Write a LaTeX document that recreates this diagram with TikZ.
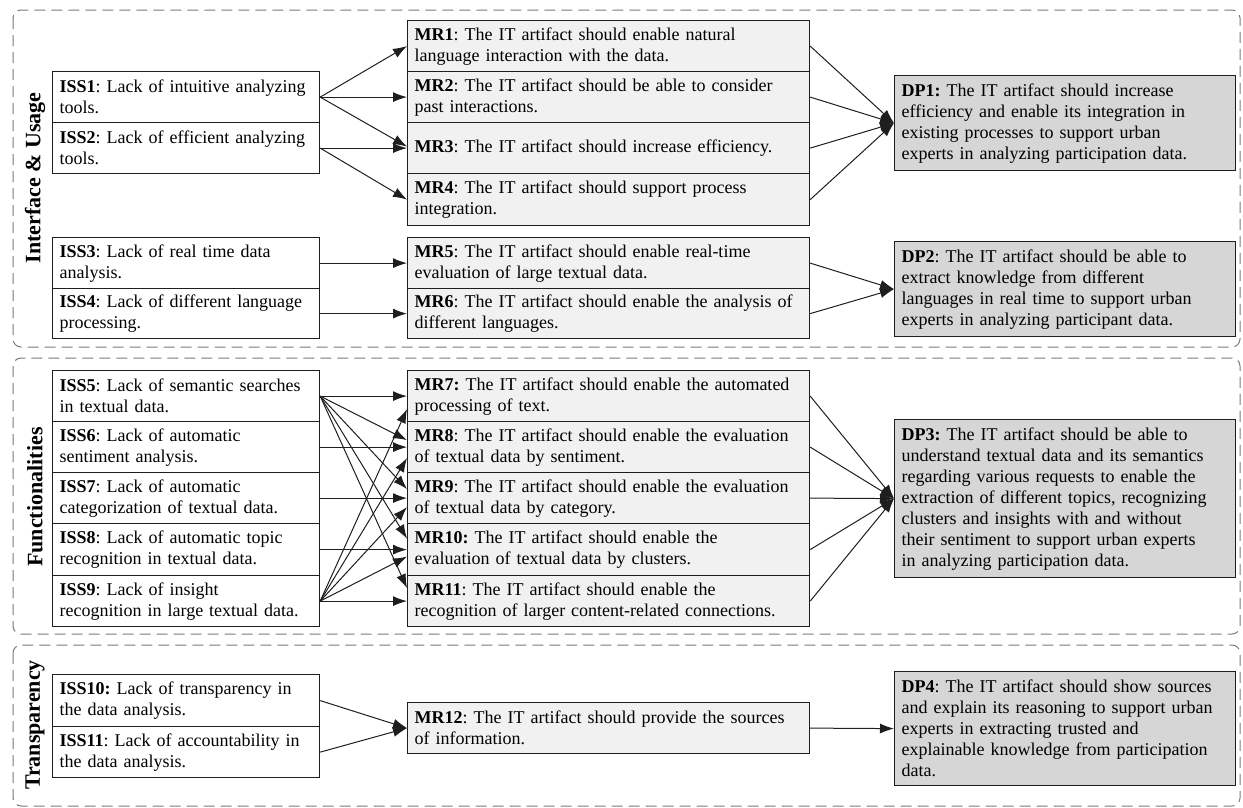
\documentclass[tikz,border=0pt]{standalone}
\usepackage{fontspec}
\setmainfont{Liberation Serif}
\usetikzlibrary{arrows.meta,calc}
\definecolor{mrgray}{HTML}{F1F1F1}
\definecolor{dpgray}{HTML}{D6D6D6}
\definecolor{secgray}{HTML}{7A7A7A}
\definecolor{edge}{HTML}{1E1E1E}
\frenchspacing
\begin{document}
\begin{tikzpicture}[x=1pt,y=-1pt,
  box/.style={draw=edge, line width=1.2pt, rectangle, anchor=north west, inner xsep=7pt, inner ysep=0pt, align=left, font=\fontsize{18}{21}\selectfont},
  iss/.style={box, fill=white, minimum width=267pt, text width=253pt},
  mr/.style={box, fill=mrgray, minimum width=402pt, text width=388pt},
  dp/.style={box, fill=dpgray, minimum width=341pt, text width=327pt},
  conn/.style={draw=edge, line width=1pt, -{Latex[length=14pt,width=10pt]}},
  sec/.style={draw=secgray, dash pattern=on 11pt off 6pt, rounded corners=8pt, line width=1pt},
  seclabel/.style={font=\fontsize{22}{26}\selectfont\bfseries, rotate=90, inner sep=0pt}]
\useasboundingbox (0,0) rectangle (1243,807);

% sections
\draw[sec] (13,10) rectangle (1240,347);
\draw[sec] (13,358) rectangle (1240,634);
\draw[sec] (13,645) rectangle (1240,806);
\node[seclabel] (lab1) at (35,178) {Interface \& Usage};
\node[seclabel] (lab2) at (35,497) {Functionalities};
\node[seclabel] (lab3) at (35,725) {Transparency};

% ISS nodes
\node[iss, minimum height=51pt] (iss1) at (52,71) {\textbf{ISS1}: Lack of intuitive analyzing\\tools.};
\node[iss, minimum height=51pt] (iss2) at (52,122) {\textbf{ISS2}: Lack of efficient analyzing\\tools.};
\node[iss, minimum height=51pt] (iss3) at (52,237) {\textbf{ISS3}: Lack of real time data\\analysis.};
\node[iss, minimum height=50pt] (iss4) at (52,288) {\textbf{ISS4}: Lack of different language\\processing.};
\node[iss, minimum height=51pt] (iss5) at (52,370) {\textbf{ISS5}: Lack of semantic searches\\in textual data.};
\node[iss, minimum height=51pt] (iss6) at (52,421) {\textbf{ISS6}: Lack of automatic\\sentiment analysis.};
\node[iss, minimum height=51pt] (iss7) at (52,472) {\textbf{ISS7}: Lack of automatic\\categorization of textual data.};
\node[iss, minimum height=52pt] (iss8) at (52,523) {\textbf{ISS8}: Lack of automatic topic\\recognition in textual data.};
\node[iss, minimum height=51pt] (iss9) at (52,575) {\textbf{ISS9}: Lack of insight\\recognition in large textual data.};
\node[iss, minimum height=52pt] (iss10) at (52,674) {\textbf{ISS10:} Lack of transparency in\\the data analysis.};
\node[iss, minimum height=51pt] (iss11) at (52,726) {\textbf{ISS11}: Lack of accountability in\\the data analysis.};

% MR nodes
\node[mr, minimum height=51pt] (mr1) at (407,20) {\textbf{MR1}: The IT artifact should enable natural\\language interaction with the data.};
\node[mr, minimum height=51pt] (mr2) at (407,71) {\textbf{MR2}: The IT artifact should be able to consider\\past interactions.};
\node[mr, minimum height=51pt] (mr3) at (407,122) {\textbf{MR3}: The IT artifact should increase efficiency.};
\node[mr, minimum height=52pt] (mr4) at (407,173) {\textbf{MR4}: The IT artifact should support process\\integration.};
\node[mr, minimum height=51pt] (mr5) at (407,237) {\textbf{MR5}: The IT artifact should enable real-time\\evaluation of large textual data.};
\node[mr, minimum height=50pt] (mr6) at (407,288) {\textbf{MR6}: The IT artifact should enable the analysis of\\different languages.};
\node[mr, minimum height=51pt] (mr7) at (407,370) {\textbf{MR7:} The IT artifact should enable the automated\\processing of text.};
\node[mr, minimum height=51pt] (mr8) at (407,421) {\textbf{MR8}: The IT artifact should enable the evaluation\\of textual data by sentiment.};
\node[mr, minimum height=51pt] (mr9) at (407,472) {\textbf{MR9}: The IT artifact should enable the evaluation\\of textual data by category.};
\node[mr, minimum height=52pt] (mr10) at (407,523) {\textbf{MR10:} The IT artifact should enable the\\evaluation of textual data by clusters.};
\node[mr, minimum height=51pt] (mr11) at (407,575) {\textbf{MR11}: The IT artifact should enable the\\recognition of larger content-related connections.};
\node[mr, minimum height=51pt] (mr12) at (407,702) {\textbf{MR12}: The IT artifact should provide the sources\\of information.};

% DP nodes
\node[dp, minimum height=95pt] (dp1) at (894,75) {\textbf{DP1:} The IT artifact should increase\\efficiency and enable its integration in\\existing processes to support urban\\experts in analyzing participation data.};
\node[dp, minimum height=95pt] (dp2) at (894,241) {\textbf{DP2}: The IT artifact should be able to\\extract knowledge from different\\languages in real time to support urban\\experts in analyzing participant data.};
\node[dp, minimum height=158pt] (dp3) at (894,419) {\textbf{DP3:} The IT artifact should be able to\\understand textual data and its semantics\\regarding various requests to enable the\\extraction of different topics, recognizing\\clusters and insights with and without\\their sentiment to support urban experts\\in analyzing participation data.};
\node[dp, minimum height=114pt] (dp4) at (894,671) {\textbf{DP4}: The IT artifact should show sources\\and explain its reasoning to support urban\\experts in extracting trusted and\\explainable knowledge from participation\\data.};

% ISS -> MR (section 1)
\draw[conn] (iss1.east) -- (mr1.west);
\draw[conn] (iss1.east) -- (mr2.west);
\draw[conn] (iss1.east) -- ([yshift=1.5pt]mr3.west);
\draw[conn] (iss2.east) -- (mr3.west);
\draw[conn] (iss2.east) -- (mr4.west);
\draw[conn] (iss3.east) -- (mr5.west);
\draw[conn] (iss4.east) -- (mr6.west);

% ISS -> MR (section 2)
\draw[conn] (iss5.east) -- (mr7.west);
\draw[conn] (iss5.east) -- ([yshift=7pt]mr8.west);
\draw[conn] (iss5.east) -- ([yshift=9pt]mr9.west);
\draw[conn] (iss5.east) -- ([yshift=11pt]mr10.west);
\draw[conn] (iss5.east) -- ([yshift=13pt]mr11.west);
\draw[conn] (iss6.east) -- (mr8.west);
\draw[conn] (iss7.east) -- (mr9.west);
\draw[conn] (iss8.east) -- (mr10.west);
\draw[conn] (iss9.east) -- (mr11.west);
\draw[conn] (iss9.east) -- ([yshift=-7pt]mr10.west);
\draw[conn] (iss9.east) -- ([yshift=-9pt]mr9.west);
\draw[conn] (iss9.east) -- ([yshift=-11pt]mr8.west);
\draw[conn] (iss9.east) -- ([yshift=-13pt]mr7.west);

% ISS -> MR (section 3)
\draw[conn] (iss10.east) -- (mr12.west);
\draw[conn] (iss11.east) -- (mr12.west);

% MR -> DP
\foreach \m in {mr1,mr2,mr3,mr4} \draw[conn] (\m.east) -- (dp1.west);
\foreach \m in {mr5,mr6} \draw[conn] (\m.east) -- (dp2.west);
\foreach \m in {mr7,mr8,mr9,mr10,mr11} \draw[conn] (\m.east) -- (dp3.west);
\draw[conn] (mr12.east) -- (dp4.west);
\end{tikzpicture}
\end{document}
